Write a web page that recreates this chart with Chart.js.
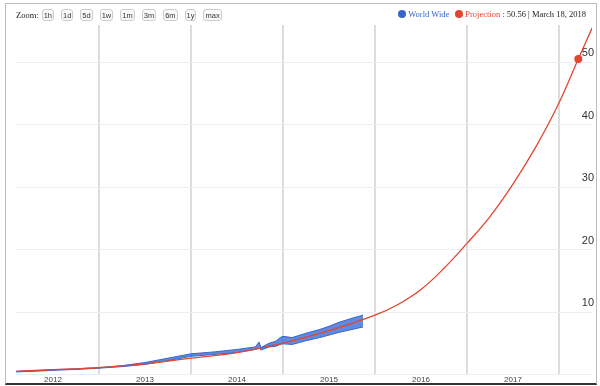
<!DOCTYPE html>
<html>
<head>
<meta charset="utf-8">
<script src="https://cdn.jsdelivr.net/npm/chart.js@4.4.1/dist/chart.umd.min.js"></script>
<style>
  body { margin: 0; background: #fff; }
  #wrap { position: relative; width: 600px; height: 386px; overflow: hidden; }
  #frame { position: absolute; left: 5px; top: 3px; width: 590px; height: 379px; border: 1px solid #bbb; border-bottom: 2px solid #333; }
  canvas { position: absolute; left: 0; top: 0; }
  #zoom { position: absolute; left: 16px; top: 9px; font: 8.5px "Liberation Serif"; color: #222; display: flex; align-items: center; }
  #zoom .b { display: inline-block; border: 1px solid #ccc; border-radius: 3px; font: 7.5px "Liberation Sans"; color: #333; padding: 0.5px 1px; margin-left: 7px; background: #f9f9f9; }
  #zoom .b:nth-child(2) { margin-left: 3px; }
  #legend { position: absolute; right: 14px; top: 9px; font: 8.5px "Liberation Serif"; color: #222; display: flex; align-items: center; }
  #legend .dot { display: inline-block; width: 8px; height: 8px; border-radius: 50%; margin-right: 2px; }
</style>
</head>
<body>
<div id="wrap">
  <div id="frame"></div>
  <canvas id="chart" width="600" height="386"></canvas>
  <div id="zoom"><span>Zoom:</span></div>
  <div id="legend"></div>
</div>
<script>
// zoom buttons and header text
const zoomButtons = ['1h', '1d', '5d', '1w', '1m', '3m', '6m', '1y', 'max'];
const worldLabel = 'World Wide';
const projLabel = 'Projection';
const projNote = ': 50.56 | March 18, 2018';

// projection curve (decimal years, value)
const projYears  = [2012.1, 2012.5, 2013.0, 2013.5, 2014.0, 2014.5, 2015.0, 2015.5, 2016.0, 2016.25, 2016.5, 2016.75, 2017.0, 2017.25, 2017.5, 2017.75, 2018.0, 2018.21, 2018.36];
const projValues = [0.5, 0.75, 1.1, 1.7, 2.6, 3.5, 5.0, 7.0, 9.5, 11.2, 13.6, 17.0, 21.0, 25.3, 30.5, 36.5, 43.5, 50.56, 55.5];
const markerYear = 2018.21;

// world wide band, upper and lower edge of the daily swing
const blueYears = [2012.1, 2012.3, 2012.5, 2012.75, 2013.0, 2013.25, 2013.5, 2013.75, 2014.0, 2014.25, 2014.5, 2014.7, 2014.74, 2014.76, 2014.85, 2014.92, 2014.97, 2015.0, 2015.1, 2015.25, 2015.4, 2015.5, 2015.6, 2015.75, 2015.87];
const blueHigh  = [0.5, 0.6, 0.75, 0.9, 1.1, 1.4, 1.9, 2.6, 3.3, 3.6, 4.0, 4.4, 5.2, 4.3, 5.0, 5.3, 5.9, 6.1, 5.9, 6.6, 7.2, 7.7, 8.3, 9.0, 9.5];
const blueLow   = [0.4, 0.5, 0.65, 0.8, 1.0, 1.25, 1.6, 2.2, 2.9, 3.2, 3.5, 4.0, 4.2, 3.9, 4.4, 4.5, 4.8, 4.9, 4.8, 5.4, 5.9, 6.3, 6.7, 7.2, 7.6];

// axes
const gridYears = [2013, 2014, 2015, 2016, 2017, 2018];
const yearLabels = [2012, 2013, 2014, 2015, 2016, 2017];
const yTicks = [10, 20, 30, 40, 50];

const blue = '#3366cc';
const red = '#e2472d';

// header
let zoomDiv = document.getElementById('zoom');
zoomButtons.forEach(b => {
    let s = document.createElement('span');
    s.className = 'b';
    s.textContent = b;
    zoomDiv.appendChild(s);
});
document.getElementById('legend').innerHTML =
    `<span class="dot" style="background:${blue}"></span><span style="color:${blue}">${worldLabel}</span>` +
    `<span class="dot" style="background:${red};margin-left:6px"></span><span style="color:${red}">${projLabel}</span>` +
    `<span>&nbsp;${projNote}</span>`;

function pts(xs, ys) {
    return xs.map((x, i) => ({ x: x, y: ys[i] }));
}

let cntx = document.getElementById('chart').getContext('2d');
let chart = new Chart(cntx, {
    type: 'line',
    data: {
        datasets: [{
            label: projLabel,
            data: pts(projYears, projValues),
            borderColor: red,
            backgroundColor: red,
            borderWidth: 1.3,
            tension: 0.4,
            pointRadius: ctx => (projYears[ctx.dataIndex] === markerYear ? 4 : 0),
            pointBorderWidth: 0,
            fill: false
        }, {
            label: worldLabel,
            data: pts(blueYears, blueHigh),
            borderColor: blue,
            backgroundColor: 'rgba(58, 108, 212, 0.8)',
            borderWidth: 1,
            pointRadius: 0,
            tension: 0,
            fill: '+1'
        }, {
            label: worldLabel + ' low',
            data: pts(blueYears, blueLow),
            borderColor: blue,
            borderWidth: 1,
            pointRadius: 0,
            tension: 0,
            fill: false
        }]
    },
    options: {
        responsive: false,
        animation: false,
        devicePixelRatio: 1,
        layout: { padding: { left: 16, top: 25, right: 4, bottom: 0 } },
        plugins: { legend: { display: false }, tooltip: { enabled: false } },
        scales: {
            x: {
                type: 'linear',
                min: 2012.098,
                max: 2018.359,
                position: 'bottom',
                afterBuildTicks: s => { s.ticks = gridYears.map(v => ({ value: v })); },
                ticks: { display: false },
                grid: { color: '#dcdcdc', lineWidth: 2, drawTicks: false },
                border: { display: false }
            },
            xLab: {
                type: 'linear',
                min: 2012.098,
                max: 2018.359,
                position: 'bottom',
                afterBuildTicks: s => { s.ticks = yearLabels.map(v => ({ value: v + 0.5 })); },
                ticks: {
                    autoSkip: false,
                    maxRotation: 0,
                    padding: 1,
                    color: '#444',
                    font: { family: 'Liberation Sans', size: 8 },
                    callback: v => String(Math.floor(v))
                },
                grid: { display: false, drawTicks: false },
                border: { display: false }
            },
            y: {
                type: 'linear',
                position: 'right',
                min: 0,
                max: 56,
                afterBuildTicks: s => { s.ticks = [0].concat(yTicks).map(v => ({ value: v })); },
                ticks: {
                    mirror: true,
                    padding: 2,
                    labelOffset: -9,
                    color: '#333',
                    font: { family: 'Liberation Sans', size: 11 },
                    callback: v => (v === 0 ? '' : String(v))
                },
                grid: { color: '#ececf5', drawTicks: false },
                border: { display: false }
            }
        }
    }
});
</script>
</body>
</html>
